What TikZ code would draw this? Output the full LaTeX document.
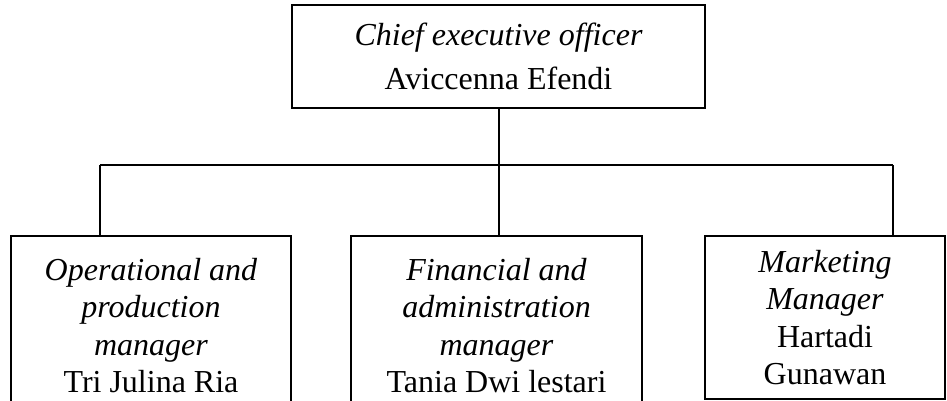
\documentclass[tikz,border=0pt]{standalone}
\usepackage{fontspec}
\setmainfont{Liberation Serif}
\begin{document}
\begin{tikzpicture}[x=1pt,y=-1pt,
  box/.style={draw, line width=2pt, align=center, inner sep=0pt, font=\fontsize{32}{37.5}\selectfont},
  link/.style={line width=2pt}]
\useasboundingbox[fill=white] (0,0) rectangle (947,400);
\node[box, minimum width=413pt, minimum height=103pt] (ceo) at (498.5,56.5)
  {\textit{Chief executive officer}\\[7pt]Aviccenna Efendi};
\node[box, minimum width=280pt, minimum height=179pt] (op) at (151,325.5)
  {\textit{Operational and}\\\textit{production}\\\textit{manager}\\Tri Julina Ria};
\node[box, minimum width=291pt, minimum height=179pt] (fin) at (496.5,325.5)
  {\textit{Financial and}\\\textit{administration}\\\textit{manager}\\Tania Dwi lestari};
\node[box, minimum width=240pt, minimum height=163pt] (mkt) at (825,317.5)
  {\textit{Marketing}\\\textit{Manager}\\Hartadi\\Gunawan};
\coordinate (bl) at (100,165);
\coordinate (br) at (893,165);
\coordinate (bm) at (ceo.south |- bl);
\draw[link] (ceo.south) -- (bm);
\draw[link] (bl) -- (br);
\draw[link] (bl) -- (bl |- op.north);
\draw[link] (bm) -- (bm |- fin.north);
\draw[link] (br) -- (br |- mkt.north);
\end{tikzpicture}
\end{document}
